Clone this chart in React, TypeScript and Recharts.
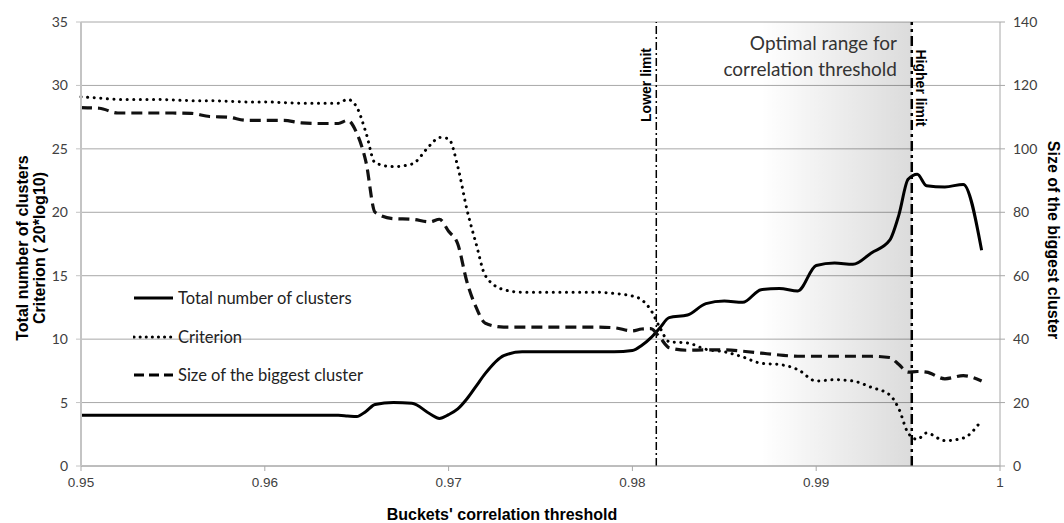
import {
  LineChart,
  Line,
  XAxis,
  YAxis,
  CartesianGrid,
  ReferenceLine,
  ReferenceArea
} from "recharts"

// correlation thresholds (x axis)
const thresholds = [
  0.95, 0.951, 0.952, 0.953, 0.954, 0.955, 0.956, 0.957, 0.958, 0.959,
  0.96, 0.961, 0.962, 0.963, 0.964, 0.9645, 0.965, 0.9655, 0.966, 0.967,
  0.968, 0.969, 0.9695, 0.97, 0.9705, 0.971, 0.9715, 0.972, 0.973, 0.974,
  0.975, 0.976, 0.977, 0.978, 0.979, 0.98, 0.9805, 0.981, 0.9815, 0.982,
  0.983, 0.984, 0.985, 0.986, 0.987, 0.988, 0.989, 0.99, 0.991, 0.992,
  0.993, 0.994, 0.9945, 0.995, 0.9955, 0.996, 0.997, 0.998, 0.999
]

// left axis
const totalClusters = [
  4, 4, 4, 4, 4, 4, 4, 4, 4, 4,
  4, 4, 4, 4, 4, 3.95, 3.9, 4.3, 4.85, 5.0,
  4.95, 4.1, 3.75, 4.05, 4.5, 5.3, 6.3, 7.3, 8.7, 9.0,
  9.0, 9.0, 9.0, 9.0, 9.0, 9.1, 9.5, 10.1, 10.9, 11.7,
  11.9, 12.8, 13.0, 12.9, 13.9, 14.0, 13.8, 15.8, 16.0, 15.9,
  16.8, 17.8, 19.8, 22.6, 23.0, 22.1, 22.0, 22.2, 17.0
]

const criterion = [
  29.1, 29.0, 28.9, 28.9, 28.9, 28.85, 28.8, 28.8, 28.75, 28.7,
  28.7, 28.65, 28.6, 28.6, 28.6, 28.9, 28.3, 26.3, 23.9, 23.6,
  23.8, 25.3, 25.9, 25.8, 23.6, 20.2, 17.5, 15.0, 13.9, 13.7,
  13.7, 13.7, 13.7, 13.7, 13.6, 13.4, 13.1, 12.3, 10.9, 9.8,
  9.7, 9.2, 9.0, 8.6, 8.1, 8.0, 7.6, 6.7, 6.8, 6.7,
  6.2, 5.6, 4.5, 2.6, 2.1, 2.6, 2.0, 2.2, 3.6
]

// right axis
const biggestCluster = [
  113, 112.8, 111.3, 111.3, 111.3, 111.3, 111.2, 110.2, 110, 109,
  109, 109, 108.2, 108, 108, 109, 105, 96, 80, 78,
  77.8, 77, 77.8, 74, 70, 58, 50, 45, 43.8, 43.8,
  43.8, 43.8, 43.8, 43.8, 43.6, 42.6, 43.2, 43.3, 40.5, 37.3,
  36.5, 36.6, 36.6, 36.2, 35.6, 35, 34.6, 34.6, 34.6, 34.6,
  34.6, 34.2, 32, 29.6, 29.8, 29.6, 27.5, 28.5, 26.8
]

const xTicks = [0.95, 0.96, 0.97, 0.98, 0.99, 1]
const leftTicks = [0, 5, 10, 15, 20, 25, 30, 35]
const rightTicks = [0, 20, 40, 60, 80, 100, 120, 140]

const lowerLimit = 0.9813
const higherLimit = 0.9952
const optimalStart = 0.987

const data = thresholds.map((x, i) => ({
  x,
  total: totalClusters[i],
  criterion: criterion[i],
  biggest: biggestCluster[i]
}))

const tickFont = { fontFamily: "Lato, 'Open Sans', sans-serif", fontSize: 14, fill: "#404040" }
const titleFont = "'Liberation Sans', Arial, sans-serif"

const legendItems = [
  { name: "Total number of clusters", dash: undefined, width: 3 },
  { name: "Criterion", dash: "0.1 6", width: 3 },
  { name: "Size of the biggest cluster", dash: "10 5", width: 3 }
]

export default function App() {

  return (

    <div style={{ position: "relative", width: 1064, height: 523, background: "#fff" }}>

      <style>{"body{margin:0}"}</style>

      <LineChart
        width={1064}
        height={523}
        data={data}
        margin={{ top: 22, right: 0, bottom: 0, left: 0 }}
      >

        <defs>
          <linearGradient id="optGrad" x1="0" y1="0" x2="1" y2="0">
            <stop offset="0%" stopColor="#000" stopOpacity={0} />
            <stop offset="100%" stopColor="#000" stopOpacity={0.14} />
          </linearGradient>
        </defs>

        <CartesianGrid yAxisId="left" vertical={false} stroke="#a8a8a8" />

        <XAxis
          dataKey="x"
          type="number"
          domain={[0.95, 1]}
          ticks={xTicks}
          height={57}
          tickSize={5}
          tickMargin={6}
          stroke="#a8a8a8"
          tick={{ ...tickFont, fontFamily: "'Liberation Sans', sans-serif", fontSize: 13.5 }}
          label={{
            content: () => (
              <text x={502} y={520} textAnchor="middle" fontFamily={titleFont} fontWeight="bold" fontSize={16} fill="#000">
                Buckets' correlation threshold
              </text>
            )
          }}
        />

        <YAxis
          yAxisId="left"
          domain={[0, 35]}
          ticks={leftTicks}
          width={81}
          tickSize={5}
          tickMargin={8}
          stroke="#c4c4c4"
          axisLine={{ stroke: "#c4c4c4", strokeWidth: 2 }}
          tick={tickFont}
          label={{
            content: () => (
              <g fontFamily={titleFont} fontWeight="bold" fontSize={16} fill="#000">
                <text x={28} y={248} textAnchor="middle" transform="rotate(-90 28 248)">Total number of clusters</text>
                <text x={45} y={248} textAnchor="middle" transform="rotate(-90 45 248)">Criterion ( 20*log10)</text>
              </g>
            )
          }}
        />

        <YAxis
          yAxisId="right"
          orientation="right"
          domain={[0, 140]}
          ticks={rightTicks}
          width={64}
          tickSize={5}
          tickMargin={8}
          stroke="#a8a8a8"
          tick={tickFont}
          label={{
            content: () => (
              <text x={1048} y={240} textAnchor="middle" transform="rotate(90 1048 240)" fontFamily={titleFont} fontWeight="bold" fontSize={16} fill="#000">
                Size of the biggest cluster
              </text>
            )
          }}
        />

        <ReferenceArea
          yAxisId="left"
          x1={optimalStart}
          x2={higherLimit}
          fill="url(#optGrad)"
          fillOpacity={1}
          stroke="none"
          label={{
            content: () => (
              <g fontFamily="Lato, 'Open Sans', sans-serif" fontSize={19} fill="#333" textAnchor="end">
                <text x={897} y={50}>Optimal range for</text>
                <text x={897} y={76}>correlation threshold</text>
              </g>
            )
          }}
        />

        <ReferenceLine
          yAxisId="left"
          x={lowerLimit}
          stroke="#000"
          strokeWidth={1.5}
          strokeDasharray="8 3 2 3"
          label={{
            content: (props: any) => {
              const vx = props.viewBox.x - 5
              return (
                <text x={vx} y={85} textAnchor="middle" transform={`rotate(-90 ${vx} 85)`} fontFamily={titleFont} fontWeight="bold" fontSize={14} fill="#000">
                  Lower limit
                </text>
              )
            }
          }}
        />

        <ReferenceLine
          yAxisId="left"
          x={higherLimit}
          stroke="#000"
          strokeWidth={2.5}
          strokeDasharray="10 4 3 4"
          label={{
            content: (props: any) => {
              const vx = props.viewBox.x + 4
              return (
                <text x={vx} y={88} textAnchor="middle" transform={`rotate(90 ${vx} 88)`} fontFamily={titleFont} fontWeight="bold" fontSize={14} fill="#000">
                  Higher limit
                </text>
              )
            }
          }}
        />

        <Line
          yAxisId="left"
          type="monotone"
          dataKey="total"
          stroke="#000"
          strokeWidth={3}
          dot={false}
          isAnimationActive={false}
        />

        <Line
          yAxisId="left"
          type="monotone"
          dataKey="criterion"
          stroke="#000"
          strokeWidth={3}
          strokeDasharray="0.1 6.5"
          strokeLinecap="round"
          dot={false}
          isAnimationActive={false}
        />

        <Line
          yAxisId="right"
          type="monotone"
          dataKey="biggest"
          stroke="#111"
          strokeWidth={3.2}
          strokeDasharray="11 6"
          dot={false}
          isAnimationActive={false}
        />

      </LineChart>

      <div style={{ position: "absolute", left: 133, top: 279 }}>
        {legendItems.map((item) => (
          <div key={item.name} style={{ display: "flex", alignItems: "center", height: 38.5 }}>
            <svg width={42} height={8}>
              <line
                x1={1}
                y1={4}
                x2={40}
                y2={4}
                stroke="#000"
                strokeWidth={item.width}
                strokeDasharray={item.dash}
                strokeLinecap={item.dash && item.dash.startsWith("0.1") ? "round" : "butt"}
              />
            </svg>
            <span style={{ fontFamily: "Lato, 'Open Sans', sans-serif", fontSize: 16.5, color: "#222", marginLeft: 3 }}>
              {item.name}
            </span>
          </div>
        ))}
      </div>

    </div>

  )

}
